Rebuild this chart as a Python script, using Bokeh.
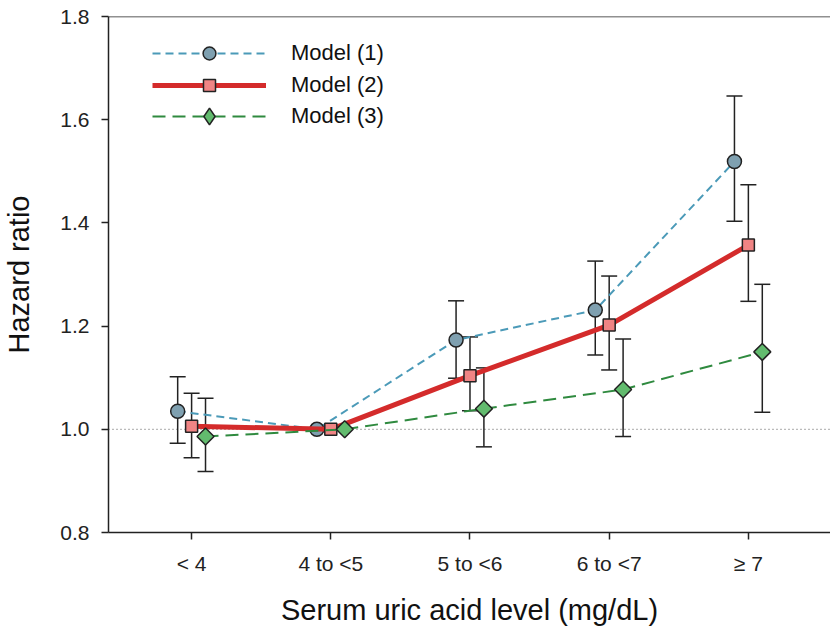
from bokeh.plotting import figure
from bokeh.models import (ColumnDataSource, Whisker, TeeHead, Span, FixedTicker,
                          Legend, LegendItem, Range1d)
from bokeh.embed import file_html
from bokeh.resources import INLINE
import math

categories = ["< 4", "4 to <5", "5 to <6", "6 to <7", "\u2265 7"]

m1_hr = [1.035, 1.000, 1.173, 1.231, 1.519]
m1_lo = [0.973, None, 1.099, 1.144, 1.403]
m1_hi = [1.102, None, 1.249, 1.326, 1.646]

m2_hr = [1.006, 1.000, 1.104, 1.202, 1.357]
m2_lo = [0.945, None, 1.036, 1.115, 1.248]
m2_hi = [1.070, None, 1.179, 1.297, 1.474]

m3_hr = [0.986, 1.000, 1.040, 1.077, 1.150]
m3_lo = [0.918, None, 0.966, 0.986, 1.033]
m3_hi = [1.060, None, 1.119, 1.175, 1.281]

y_ticks = [0.8, 1.0, 1.2, 1.4, 1.6, 1.8]
offsets = [-0.1, 0.0, 0.1]

FONT = "Liberation Sans"

p = figure(width=830, height=628, output_backend="svg", toolbar_location=None,
           x_range=Range1d(0.403, 5.59), y_range=Range1d(0.8, 1.8),
           min_border_left=101, min_border_right=0, min_border_top=16,
           min_border_bottom=96)
p.grid.visible = False
p.outline_line_color = None
p.background_fill_color = "white"
p.border_fill_color = "white"

p.xaxis.ticker = FixedTicker(ticks=list(range(1, len(categories) + 1)))
p.xaxis.major_label_overrides = {i + 1: c for i, c in enumerate(categories)}
p.yaxis.ticker = FixedTicker(ticks=y_ticks)
p.yaxis.major_label_overrides = {t: f"{t:.1f}" for t in y_ticks}
for ax in (p.xaxis[0], p.yaxis[0]):
    ax.axis_line_width = 1.5
    ax.axis_line_color = "#222222"
    ax.major_tick_line_width = 1.5
    ax.major_tick_line_color = "#222222"
    ax.major_tick_out = 7
    ax.major_tick_in = 0
    ax.minor_tick_line_color = None
    ax.major_label_text_font = FONT
    ax.major_label_text_font_size = "21px"
    ax.major_label_text_color = "#222222"
    ax.axis_label_text_font = FONT
    ax.axis_label_text_font_size = "29px"
    ax.axis_label_text_font_style = "normal"
    ax.axis_label_text_color = "#111111"
    ax.major_label_standoff = 12
p.xaxis.axis_label = "Serum uric acid level (mg/dL)"
p.yaxis.axis_label = "Hazard ratio"
p.xaxis.axis_label_standoff = 16
p.yaxis.axis_label_standoff = 22

# top frame line
p.add_layout(Span(location=y_ticks[-1], dimension="width", line_color="#222222",
                  line_width=1.5))
# reference line at HR = 1
p.add_layout(Span(location=1.0, dimension="width", line_color="#555555",
                  line_width=1, line_dash="1 3", level="underlay"))

models = [
    dict(hr=m1_hr, lo=m1_lo, hi=m1_hi, name="Model (1)", line="#4b9ab8", lw=2,
         dash="8 5", marker="circle", size=14, fill="#7fa0b0", angle=0.0,
         legend_marker="circle", lg_h=32, lg_loc=(44, 463)),
    dict(hr=m2_hr, lo=m2_lo, hi=m2_hi, name="Model (2)", line="#d42b2b", lw=5,
         dash="solid", marker="square", size=12, fill="#f08484", angle=0.0,
         legend_marker="square", lg_h=30, lg_loc=(44, 432)),
    dict(hr=m3_hr, lo=m3_lo, hi=m3_hi, name="Model (3)", line="#2f8a3f", lw=2,
         dash="13 7", marker="square", size=12, fill="#62bb6e", angle=math.pi / 4,
         legend_marker="diamond", lg_h=42, lg_loc=(44, 395)),
]

for m, off in zip(models, offsets):
    xs = [i + 1 + off for i in range(len(categories))]
    wx = [x for x, lo in zip(xs, m["lo"]) if lo is not None]
    wl = [lo for lo in m["lo"] if lo is not None]
    wh = [hi for hi in m["hi"] if hi is not None]
    src = ColumnDataSource(dict(x=wx, lower=wl, upper=wh))
    w = Whisker(source=src, base="x", lower="lower", upper="upper",
                dimension="height", line_color="#222222", line_width=1.5,
                level="underlay",
                upper_head=TeeHead(size=16, line_color="#222222", line_width=1.5),
                lower_head=TeeHead(size=16, line_color="#222222", line_width=1.5))
    p.add_layout(w)

for m, off in zip(models, offsets):
    xs = [i + 1 + off for i in range(len(categories))]
    src = ColumnDataSource(dict(x=xs, y=m["hr"]))
    ln = p.line("x", "y", source=src, line_color=m["line"], line_width=m["lw"],
                line_dash=m["dash"])
    sc = p.scatter("x", "y", source=src, marker=m["marker"], size=m["size"],
                   angle=m["angle"], fill_color=m["fill"], line_color="#222222",
                   line_width=1.5)
    rends = [ln]
    if m["legend_marker"] == m["marker"]:
        rends.append(sc)
    else:
        # legend-only marker (legend glyphs are never rotated)
        lg = p.scatter(x=[float("nan")], y=[float("nan")], marker=m["legend_marker"],
                       size=m["size"], fill_color=m["fill"], line_color="#222222",
                       line_width=1.5)
        rends.append(lg)
    legend = Legend(items=[LegendItem(label=m["name"], renderers=rends)],
                    location=m["lg_loc"], glyph_width=114, glyph_height=m["lg_h"],
                    label_height=24, label_standoff=25, spacing=0, padding=0,
                    margin=0, border_line_color=None, background_fill_alpha=0,
                    label_text_font=FONT, label_text_font_size="22px",
                    label_text_color="#111111")
    p.add_layout(legend, "center")

open("out.html", "w").write(file_html(p, INLINE))
